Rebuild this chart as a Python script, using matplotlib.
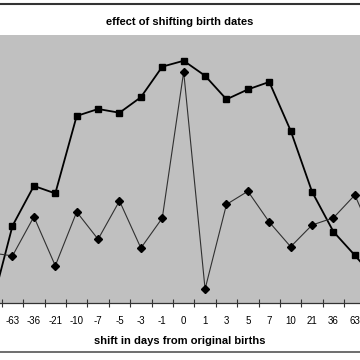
import matplotlib.pyplot as plt
from matplotlib.lines import Line2D

# categories (outer two are only partly in view)
shifts = ['-90', '-63', '-36', '-21', '-10', '-7', '-5', '-3', '-1', '0',
          '1', '3', '5', '7', '10', '21', '36', '63', '90']
squares = [-2, 28.8, 43.7, 40.9, 69.8, 72.4, 71.0, 76.8, 88.2, 90.4,
           84.8, 76.0, 79.7, 82.5, 64.3, 41.5, 26.6, 17.8, 8.6]
diamonds = [18.7, 17.6, 32.2, 13.9, 34.0, 23.8, 38.1, 20.5, 31.7, 86.3,
            5.2, 36.8, 41.7, 30.2, 21.0, 29.1, 31.8, 40.3, 22.0]

plt.rcParams['font.family'] = ['Liberation Sans', 'DejaVu Sans']

fig = plt.figure(figsize=(3.6, 3.6), dpi=100)
ax = fig.add_axes([0, 0.1583, 1, 0.7444])
ax.set_facecolor('#c0c0c0')

x = list(range(len(shifts)))
ax.plot(x, squares, color='black', lw=1.3, marker='s', ms=5, zorder=3)
ax.plot(x, diamonds, color='#303030', lw=0.8, marker='D', ms=4, mfc='black', mec='black', zorder=3)

ax.set_xticks([i + 0.5 for i in range(-1, len(shifts))])
ax.set_xticklabels([])
ax.set_xticks(x, minor=True)
ax.set_xticklabels(shifts, minor=True, fontsize=7)
ax.tick_params(axis='x', which='major', direction='inout', length=6, width=0.8, color='#333333')
ax.tick_params(axis='x', which='minor', length=0, pad=9)
ax.set_yticks([])
ax.set_xlim(0.416, 17.24)
ax.set_ylim(0, 100)
for s in ['top', 'left', 'right']:
    ax.spines[s].set_visible(False)
ax.spines['bottom'].set_color('#333333')
ax.spines['bottom'].set_linewidth(0.9)

fig.text(0.5, 1 - 22 / 360, 'effect of shifting birth dates', ha='center', va='center',
         fontsize=8, fontweight='bold')
fig.text(0.5, 1 - 341 / 360, 'shift in days from original births', ha='center', va='center',
         fontsize=8, fontweight='bold')

fig.add_artist(Line2D([0, 1], [1 - 3.5 / 360] * 2, color='#333333', lw=1.5))
fig.add_artist(Line2D([0, 1], [1 - 352 / 360] * 2, color='#555555', lw=1.2))

fig.savefig('out.png', dpi=100)
